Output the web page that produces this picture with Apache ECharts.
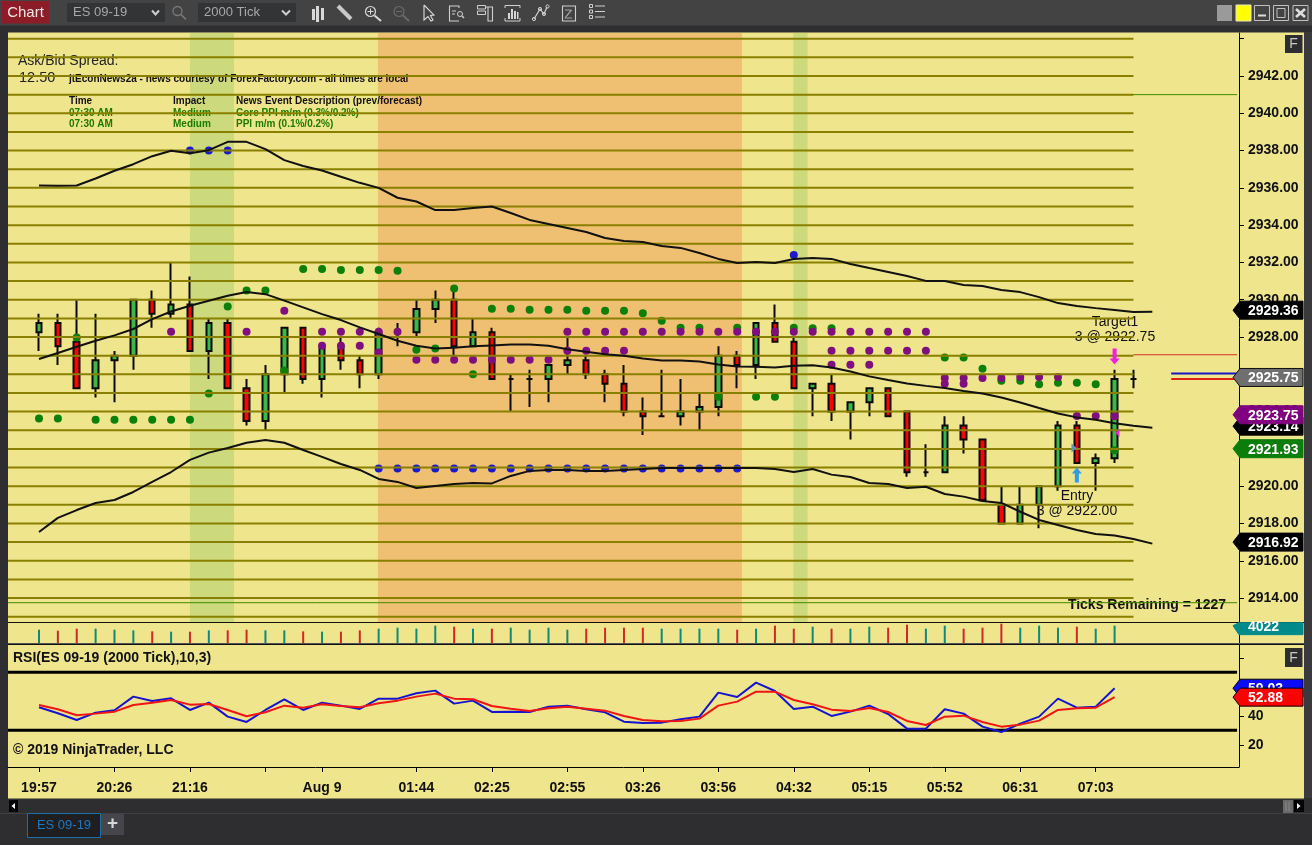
<!DOCTYPE html>
<html><head><meta charset="utf-8">
<script src="https://cdn.jsdelivr.net/npm/echarts@6/dist/echarts.min.js"></script>
<style>html,body{margin:0;padding:0;background:#2e2e30}#c{width:1312px;height:845px}</style>
</head><body><div id="c"></div>
<script>
// ---------- DATA ----------
const xTickIndex = [0,4,8,12,15,20,24,28,32,36,40,44,48,52,56];
const xTickLabels = {0:'19:57',4:'20:26',8:'21:16',15:'Aug 9',20:'01:44',24:'02:25',28:'02:55',32:'03:26',36:'03:56',40:'04:32',44:'05:15',48:'05:52',52:'06:31',56:'07:03'};
const ohlc = [
[2928.25,2928.75,2927.25,2929.25],[2928.75,2927.5,2926.5,2929.25],[2927.75,2925.25,2925.25,2930],[2925.25,2926.75,2924.75,2929.25],
[2926.75,2927,2924.5,2927.25],[2927,2930,2926.25,2930],[2930,2929.25,2928.5,2930.5],[2929.25,2929.75,2929,2932],
[2929.75,2927.25,2927.25,2931.25],[2927.25,2928.75,2925.75,2929],[2928.75,2925.25,2925.25,2929],[2925.25,2923.5,2923.25,2925.75],
[2923.5,2926,2923,2926.5],[2926,2928.5,2925,2928.5],[2928.5,2925.75,2925.5,2928.5],[2925.75,2927.5,2924.75,2927.5],
[2927.5,2926.75,2926.25,2928],[2926.75,2926,2925.25,2927],[2926,2928.25,2925.75,2928.5],[2928,2928,2927.5,2928.75],
[2928.25,2929.5,2928,2930],[2929.5,2930,2928.75,2930.5],[2930,2927.5,2927,2930.5],[2927.5,2928.25,2927.5,2929],
[2928.25,2925.75,2925.75,2928.5],[2925.75,2925.75,2924,2926],[2925.75,2925.75,2924.25,2926.25],[2925.75,2926.5,2924.5,2926.5],
[2926.5,2926.75,2926,2928],[2926.75,2926,2925.75,2927],[2926,2925.5,2924.5,2926.25],[2925.5,2924,2923.75,2926.5],
[2924,2923.75,2922.75,2924.75],[2923.75,2923.75,2923.75,2926.25],[2923.75,2924,2923.25,2925.75],[2924,2924.25,2923,2925],
[2924.25,2927,2923.75,2927.5],[2927,2926.5,2925.25,2927.25],[2926.5,2928.75,2925.75,2928.75],[2928.75,2927.75,2927.75,2929.75],
[2927.75,2925.25,2925.25,2928],[2925.25,2925.5,2923.75,2925.5],[2925.5,2924,2923.5,2926],[2924,2924.5,2922.5,2924.5],
[2924.5,2925.25,2923.75,2925.25],[2925.25,2923.75,2923.75,2925.25],[2924,2920.75,2920.5,2924],[2920.75,2920.75,2920.5,2922.25],
[2920.75,2923.25,2920.75,2923.75],[2923.25,2922.5,2921.75,2923.75],[2922.5,2919.25,2919.25,2922.5],[2919,2918,2918,2920],
[2918,2919,2918,2920],[2919,2920,2917.75,2920],[2920,2923.25,2919.75,2923.5],[2923.25,2921.25,2921.25,2923.5],
[2921.25,2921.5,2919.75,2921.75],[2921.5,2925.75,2921.25,2926.25],[2925.75,2925.75,2925.25,2926.25]
];
const volumes = [3090,2860,3325,3325,3090,2940,2705,2630,2630,2940,2940,3090,2940,2940,2705,2630,2630,2940,3325,3555,3325,4022,
3790,3325,3325,3555,3090,3555,3090,3325,3555,3555,3555,3325,3325,3325,3325,3090,3325,4022,3325,3790,3325,3325,3790,
3555,4250,3325,4022,3325,3555,4485,3555,4022,3555,3790,3325,4022];
const upperBand = [2936.13,2936.11,2936.13,2936.5,2936.92,2937.27,2937.7,2937.99,2937.86,2938.02,2938.47,2938.47,2938.08,2937.49,2937.17,2936.93,2936.6,2936.27,2936,2935.47,2935.27,2934.81,2934.81,2934.92,2935,2934.65,2934.28,2934.06,2933.85,2933.63,2933.31,2933.15,2933.1,2932.88,2932.78,2932.51,2932.19,2931.97,2932.02,2931.97,2932.19,2932.24,2932.19,2931.92,2931.7,2931.49,2931.27,2931.01,2931.01,2930.79,2930.74,2930.52,2930.41,2930.14,2929.82,2929.66,2929.55,2929.45,2929.34,2929.36];
const midBand = [2926.82,2927.14,2927.48,2927.8,2928.09,2928.43,2928.96,2929.37,2929.68,2929.95,2930.21,2930.41,2930.3,2929.95,2929.59,2929.23,2928.91,2928.52,2928.16,2927.8,2927.53,2927.39,2927.42,2927.5,2927.55,2927.6,2927.6,2927.53,2927.35,2927.21,2927.08,2927,2926.85,2926.74,2926.74,2926.69,2926.53,2926.42,2926.4,2926.37,2926.46,2926.48,2926.37,2926.15,2925.89,2925.69,2925.51,2925.38,2925.26,2925.11,2924.97,2924.76,2924.49,2924.19,2923.9,2923.69,2923.56,2923.38,2923.24,2923.14];
const lowerBand = [2917.54,2918.3,2918.72,2919.1,2919.26,2919.69,2920.23,2920.76,2921.41,2921.8,2922.05,2922.33,2922.48,2922.33,2921.94,2921.57,2921.19,2920.87,2920.39,2920.23,2919.9,2920.01,2920.12,2920.17,2920.15,2920.55,2920.82,2920.87,2920.87,2920.82,2920.82,2920.87,2920.92,2920.98,2920.98,2920.98,2920.98,2920.98,2920.98,2920.92,2920.76,2920.92,2920.62,2920.49,2920.17,2920.12,2919.9,2919.97,2919.58,2919.44,2919.21,2919.1,2918.63,2918.19,2917.92,2917.65,2917.44,2917.35,2917.17,2916.92];
const dotsGreen = [[0,2923.63],[1,2923.63],[2,2927.98],[3,2923.56],[4,2923.56],[5,2923.56],[6,2923.56],[7,2923.56],[8,2923.56],[9,2924.97],[10,2929.64],[11,2930.5],[12,2930.5],[13,2926.2],
[14,2931.65],[15,2931.65],[16,2931.6],[17,2931.6],[18,2931.6],[19,2931.55],[20,2927.32],[21,2927.39],[22,2930.6],[23,2926],
[24,2929.52],[25,2929.52],[26,2929.46],[27,2929.46],[28,2929.46],[29,2929.41],[30,2929.41],[31,2929.41],[32,2929.27],[33,2928.87],[34,2928.5],[35,2928.5],[36,2924.8],[37,2928.5],[38,2924.8],[39,2924.8],
[40,2928.5],[41,2928.47],[42,2928.47],[48,2926.9],[49,2926.9],[50,2926.3],[51,2925.65],[52,2925.65],[53,2925.47],[54,2925.55],[55,2925.55],[56,2925.47],[57,2921.93]];
const dotsPurple = [[7,2928.28],[11,2928.28],[13,2929.41],[15,2928.28],[16,2928.28],[17,2928.28],[18,2928.28],[19,2928.28],[15,2927.53],[16,2927.53],[17,2927.53],[18,2927.17],
[20,2926.78],[21,2926.78],[22,2926.78],[23,2926.78],[24,2926.78],[25,2926.78],[26,2926.78],[27,2926.78],
[28,2928.28],[29,2928.28],[30,2928.28],[31,2928.28],[32,2928.28],[33,2928.28],[34,2928.28],[35,2928.28],[36,2928.28],[37,2928.28],[38,2928.28],[39,2928.28],
[28,2927.26],[29,2927.26],[30,2927.26],[31,2927.26],
[40,2928.28],[41,2928.28],[42,2928.28],[43,2928.28],[44,2928.28],[45,2928.28],[46,2928.28],[47,2928.28],
[42,2927.26],[43,2927.26],[44,2927.26],[45,2927.26],[46,2927.26],[47,2927.26],[42,2926.51],[43,2926.51],[44,2926.51],
[48,2925.8],[48,2925.5],[49,2925.8],[49,2925.5],[50,2925.8],[51,2925.8],[52,2925.85],[53,2925.85],[54,2925.85],[55,2923.77],[56,2923.77],[57,2923.75]];
const dotsBlue = [[8,2938],[9,2938],[10,2938],[40,2932.4],[18,2920.95],[19,2920.95],[20,2920.95],[21,2920.95],[22,2920.95],[23,2920.95],[24,2920.95],[25,2920.95],[26,2920.95],[27,2920.95],[28,2920.95],[29,2920.95],[30,2920.95],[31,2920.95],[32,2920.95],[33,2920.95],[34,2920.95],[35,2920.95],[36,2920.95],[37,2920.95]];
const rsiBlue = [45.86,41.72,37.13,42.18,43.79,53.22,50.23,52.07,44.02,49.08,39.43,35.75,44.02,51.38,44.02,49.08,47.01,44.71,51.84,51.84,55.52,57.36,48.39,50.46,42.64,42.87,42.64,46.32,47.01,44.48,42.41,35.98,35.06,35.29,37.59,39.43,55.98,52.99,62.87,57.13,44.71,46.32,39.89,42.87,47.01,41.26,31.15,31.15,44.48,41.5,32.53,28.85,34.6,39.43,51.84,45.63,46.32,59.03];
const rsiRed = [47.47,44.48,40.35,41.5,42.87,47.47,49.08,50.92,47.7,48.16,44.02,39.66,42.41,47.01,45.63,47.93,46.78,45.86,48.62,50.46,53.22,55.29,51.84,51.38,46.78,44.94,43.33,45.17,46.32,44.94,43.56,39.89,37.13,36.21,36.44,38.05,47.01,49.77,56.67,56.67,50.92,47.93,44.25,43.33,45.4,42.64,36.44,33.68,39.43,40.11,35.75,32.53,33.91,36.67,44.02,45.17,45.63,52.88];
const priceLevels = [2913,2914,2915,2916,2917,2918,2919,2920,2921,2922,2923,2924,2925,2926,2927,2928,2929,2930,2931,2932,2933,2934,2935,2936,2937,2938,2939,2940,2941,2942,2943,2944];
const priceTicks = [2914,2916,2918,2920,2922,2924,2926,2928,2930,2932,2934,2936,2938,2940,2942,2944];
const priceLabels = [2914,2916,2918,2920,2922,2924,2926,2928,2930,2932,2934,2936,2938,2940,2942];
const shadeGreen = [[8,10.33],[39.98,40.73]];
const shadeOrange = [[17.96,37.25]];
const priceTags = [['2929.36',2929.36,'#000','#000'],['2925.75',2925.75,'#6f6f6f','#111'],['2923.14',2923.14,'#000','#000'],['2923.75',2923.75,'#800080','#800080'],['2921.93',2921.93,'#0b7d0b','#0b7d0b'],['2916.92',2916.92,'#000','#000']];
const rsiTags = [['59.03',59.03,'#0a0aff','#000'],['52.88',52.88,'#ff0000','#000']];
const volTags = [['4022',4022,'#008b8b','#008b8b']];

// ---------- SCALES / STYLE ----------
const FONT='"Liberation Sans", Arial, sans-serif';
const KHAKI='#efe58c', OLIVE='#8a8000';
const xMin=-1.643, xMax=63.593, xEnd=58, xRight=63.49;
function hLine(y,x0,x1,color,w,z,yAxisIndex,xAxisIndex){
  return {type:'line',xAxisIndex:xAxisIndex||0,yAxisIndex:yAxisIndex||0,data:[[x0,y],[x1,y]],showSymbol:false,symbol:'none',silent:true,animation:false,z:z,lineStyle:{color:color,width:w,cap:'butt'},itemStyle:{color:color}};
}
function band(values,name){
  return {type:'line',name:name,xAxisIndex:0,yAxisIndex:0,data:values.map((v,i)=>[i,v]),showSymbol:false,symbol:'none',silent:true,animation:false,z:6,lineStyle:{color:'#111',width:2}};
}
function dots(pts,color){
  return {type:'scatter',xAxisIndex:0,yAxisIndex:0,data:pts,symbol:'circle',symbolSize:8,silent:true,animation:false,z:4,itemStyle:{color:color,opacity:1}};
}
function shade(ranges,color){
  return {type:'custom',xAxisIndex:0,yAxisIndex:0,silent:true,animation:false,z:1,data:ranges,clip:true,encode:{x:[0,1]},
    renderItem:(p,api)=>{const a=api.coord([api.value(0),0]),b=api.coord([api.value(1),0]);const c=p.coordSys;
      return {type:'rect',shape:{x:a[0],y:c.y,width:b[0]-a[0],height:c.height},style:{fill:color}};}};
}
function tags(list,yAxisIndex,xAxisIndex,clipTop){
  return {type:'custom',xAxisIndex:xAxisIndex,yAxisIndex:yAxisIndex,silent:true,animation:false,z:20,clip:false,
    data:list.map(t=>[0,t[1]]),encode:{y:1},
    renderItem:(p,api)=>{
      const t=list[p.dataIndex];let y=api.coord([0,api.value(1)])[1];
      if(yAxisIndex===0)y-=1.5;
      const top=clipTop?Math.max(y-9,clipTop):y-9;
      const pts=clipTop?[[1233,y],[1239,top],[1303,top],[1303,y+9],[1239,y+9]]:[[1233,y],[1240,y-9],[1303,y-9],[1303,y+9],[1240,y+9]];
      return {type:'group',children:[
        {type:'polygon',shape:{points:pts},style:{fill:t[2],stroke:t[3],lineWidth:1}},
        {type:'text',style:{text:t[0],x:1248,y:y+1,fill:'#fff',font:'bold 14px '+FONT,textAlign:'left',textVerticalAlign:'middle'}}
      ]};
    }};
}
function marker(path,size,pt,color,rot){
  return {type:'scatter',xAxisIndex:0,yAxisIndex:0,z:7,silent:true,animation:false,symbol:path,symbolSize:size,symbolRotate:rot||0,data:[pt],itemStyle:{color:color,opacity:1}};
}
// ---------- CHROME ----------
const g=[];
const rect=(x,y,w,h,fill,z,stroke,lw)=>g.push({type:'rect',silent:true,z:z===undefined?30:z,shape:{x,y,width:w,height:h},style:{fill:fill||'none',stroke:stroke||'none',lineWidth:lw||1}});
const pl=(pts,stroke,lw,z)=>g.push({type:'polyline',silent:true,z:z===undefined?30:z,shape:{points:pts},style:{stroke,lineWidth:lw||1,fill:'none'}});
const circ=(cx,cy,r,stroke,lw)=>g.push({type:'circle',silent:true,z:30,shape:{cx,cy,r},style:{stroke,lineWidth:lw||1,fill:'none'}});
const txt=(s,x,y,font,fill,align,z)=>g.push({type:'text',silent:true,z:z===undefined?2:z,x:x,y:y,style:{text:s,font:font+' '+FONT,fill,textAlign:align||'left',textVerticalAlign:'middle'}});

rect(8,32.5,1296,766,KHAKI,-1);
rect(0,0,1312,25.5,'#434343',-1);
rect(2,1,47,22.5,'#8c1c26',30);
txt('Chart',25.5,12.5,'15px','#f3e4e4','center',31);
rect(67,3,98,19,'#333436'); txt('ES 09-19',73,12.5,'13px','#a8a8a8','left',31);
pl([[152,10.5],[155.5,14.5],[159,10.5]],'#cfcfcf',2);
circ(177.5,11,4.5,'#7a7a7a',1.3); pl([[181,14.5],[186,19.5]],'#7a7a7a',1.6);
rect(198,3,98,19,'#333436'); txt('2000 Tick',204,12.5,'13px','#a8a8a8','left',31);
pl([[282,10.5],[286,14.5],[290,10.5]],'#cfcfcf',2);
// toolbar icons
rect(312,9,3,11,'#d8d8d8'); rect(316,6,3,16,'#d8d8d8'); rect(321,8,3,12,'#d8d8d8');
pl([[338,6],[351,19]],'#c9c9c9',4);
circ(370.5,11.5,5,'#d8d8d8',1.2); pl([[374.5,15.5],[381,21]],'#d8d8d8',2); pl([[367.5,11.5],[373.5,11.5]],'#d8d8d8',1); pl([[370.5,8.5],[370.5,14.5]],'#d8d8d8',1);
circ(399,11.5,5,'#6a6a6a',1.2); pl([[403,15.5],[409,21]],'#6a6a6a',2); pl([[396,11.5],[402,11.5]],'#6a6a6a',1);
pl([[424,5],[424,20],[428,16.5],[431,21],[433,20],[430.5,15.5],[434,15],[424,5]],'#dcdcdc',1.1);
pl([[459,8],[459,6],[449.5,6],[449.5,21],[459,21]],'#d0d0d0',1.1); pl([[452,11],[456,11]],'#d0d0d0',1); pl([[452,14],[455,14]],'#d0d0d0',1); circ(460,14,2.5,'#d0d0d0',1); pl([[462,16],[464,18]],'#d0d0d0',1.5);
rect(477.5,5.5,8,3.5,null,30,'#d0d0d0',1); rect(477.5,11,8,3.5,null,30,'#d0d0d0',1); pl([[485.5,7],[492.5,7],[492.5,21],[488,21],[488,7]],'#d0d0d0',1.1);
pl([[505,8],[505,5.5],[520,5.5],[520,8]],'#d0d0d0',1); pl([[505,18],[505,21],[520,21],[520,18]],'#d0d0d0',1); rect(508,13,2,6,'#d8d8d8'); rect(511,9,2,10,'#d8d8d8'); rect(514,11,2,8,'#d8d8d8'); rect(517,12,1.5,7,'#d8d8d8');
pl([[534,19],[540,9],[544,14],[547,7]],'#d0d0d0',1.2); circ(534,19,1.6,'#d0d0d0',1); circ(540,9,1.6,'#d0d0d0',1); circ(544,14,1.6,'#d0d0d0',1); circ(547.5,6.5,1.6,'#d0d0d0',1);
rect(562.5,6,13,15,null,30,'#d0d0d0',1.1); pl([[565,10],[571,10],[565,18],[572,18]],'#a8a8a8',1); pl([[565,18],[572,10]],'#a8a8a8',1);
[6,11.5,17].forEach(y=>{rect(589.5,y-1.5,3,3,null,30,'#d0d0d0',1); pl([[595,y],[605,y]],'#d0d0d0',1);});
// window buttons
rect(1217,5,15,16,'#9a9a9a'); rect(1236,5,15,16,'#ffff00',30,'#e8e8c0',1);
rect(1254.5,5.5,15,15,null,30,'#c0c0c0',1); pl([[1258,15.5],[1266,15.5]],'#dcdcdc',2);
rect(1273.5,5.5,15,15,null,30,'#c0c0c0',1); rect(1277,8.5,8,9,null,30,'#c0c0c0',1);
rect(1293,5.5,15,15,null,30,'#c0c0c0',1); pl([[1296,9],[1305,17]],'#dcdcdc',2.6); pl([[1305,9],[1296,17]],'#dcdcdc',2.6);
// F buttons
rect(1285,35,17.5,18,'#2d2d30',31); txt('F',1293.5,44.5,'14px','#c8c8c8','center',32);
rect(1285,648,17.5,19,'#2d2d30',31); txt('F',1293.5,658,'14px','#c8c8c8','center',32);
// panel lines
pl([[8,622.5],[1304,622.5]],'#111',1,8);
pl([[8,643.5],[1304,643.5]],'#555',1,8);
pl([[8,644.5],[1304,644.5]],'#111',1,8);
// bottom chrome
rect(9,800,9,12,'#000'); g.push({type:'polygon',silent:true,z:31,shape:{points:[[15,803],[11.5,806],[15,809]]},style:{fill:'#fff'}});
rect(1283,800,10,13,'#6a6a6a'); pl([[1286,802],[1286,811]],'#888',1); pl([[1289,802],[1289,811]],'#888',1);
rect(1294,800,10,12,'#000'); g.push({type:'polygon',silent:true,z:31,shape:{points:[[1297,803],[1300.5,806],[1297,809]]},style:{fill:'#fff'}});
pl([[0,813.5],[1312,813.5]],'#414141',1,29);
rect(27.5,813.5,73,24,'#1f1f21',30,'#1b6ea8',1); txt('ES 09-19',64,825.5,'13px','#1f78bf','center',31);
rect(101,814,23,21,'#45454b'); txt('+',112.5,824,'bold 19px','#d8d8d8','center',31);
rect(1304,32,8,766,'#3a3a3c',-1);
// chart text (beneath the olive lines)
txt('Ask/Bid Spread:',18,61,'14px','#222');
txt('12.50',19,77.5,'14.5px','#222');
txt('jtEconNews2a - news courtesy of ForexFactory.com - all times are local',69,79,'bold 10px','#111');
txt('Time',69,101.5,'bold 10px','#111');txt('Impact',173,101.5,'bold 10px','#111');txt('News Event Description (prev/forecast)',236,101.5,'bold 10px','#111');
const NEWS='#1b7a00';
txt('07:30 AM',69,113,'bold 10px',NEWS);txt('Medium',173,113,'bold 10px',NEWS);txt('Core PPI m/m (0.3%/0.2%)',236,113,'bold 10px',NEWS);
txt('07:30 AM',69,124.5,'bold 10px',NEWS);txt('Medium',173,124.5,'bold 10px',NEWS);txt('PPI m/m (0.1%/0.2%)',236,124.5,'bold 10px',NEWS);
txt('Target1',1115,322,'14px','#111','center');txt('3 @ 2922.75',1115,337,'14px','#111','center');
txt('Entry',1077,496,'14px','#111','center');txt('3 @ 2922.00',1077,511,'14px','#111','center');
txt('Ticks Remaining = 1227',1226,605.5,'bold 14px','#111','right');
txt('RSI(ES 09-19 (2000 Tick),10,3)',13,658.5,'bold 14px','#111');
txt('\u00a9 2019 NinjaTrader, LLC',13,750.5,'bold 14px','#111');

// ---------- CHART ----------
const hiddenX={show:false,type:'value',min:xMin,max:xMax};
const labelStyle={color:'#111',fontFamily:FONT,fontWeight:'bold',fontSize:14};
const axisLine={show:true,onZero:false,lineStyle:{color:'#000',width:1}};
const chart=echarts.init(document.getElementById('c'),null,{renderer:'canvas'});
chart.setOption({
  animation:false,backgroundColor:'#2e2e30',
  graphic:{elements:g},
  grid:[{left:8,width:1231,top:33,height:589.5},{left:8,width:1231,top:623,height:20},{left:8,width:1231,top:645,height:122}],
  xAxis:[{...hiddenX,gridIndex:0},{...hiddenX,gridIndex:1},{
    type:'value',gridIndex:2,min:xMin,max:xMax,position:'bottom',splitLine:{show:false},axisLine,
    axisTick:{show:true,length:5,lineStyle:{color:'#000'},customValues:xTickIndex},
    axisLabel:{...labelStyle,margin:14,customValues:xTickIndex.filter(i=>xTickLabels[i]),formatter:v=>xTickLabels[v]||''}
  }],
  yAxis:[{
    type:'value',gridIndex:0,position:'right',min:2912.689,max:2944.306,splitLine:{show:false},axisLine,
    axisTick:{show:true,length:5,lineStyle:{color:'#000'},customValues:priceTicks},
    axisLabel:{...labelStyle,margin:9,customValues:priceLabels,formatter:v=>v.toFixed(2)}
  },{
    type:'value',gridIndex:1,position:'right',min:0,max:4640,splitLine:{show:false},axisLine,axisTick:{show:false},axisLabel:{show:false}
  },{
    type:'value',gridIndex:2,position:'right',min:4.69,max:88.83,splitLine:{show:false},axisLine,
    axisTick:{show:true,length:5,lineStyle:{color:'#000'},customValues:[20,40,80]},
    axisLabel:{...labelStyle,margin:9,customValues:[20,40],formatter:v=>String(v)}
  }],
  series:[
    shade(shadeGreen,'#ccd97c'),shade(shadeOrange,'#f0c072'),
    {type:'candlestick',xAxisIndex:0,yAxisIndex:0,z:3,silent:true,animation:false,barWidth:6,
      encode:{x:0,y:[1,2,3,4]},data:ohlc.map((r,i)=>[i,...r]),
      itemStyle:{color:'#3cb74a',color0:'#ff0000',borderColor:'#0a0a0a',borderColor0:'#0a0a0a',borderColorDoji:'#0a0a0a',borderWidth:2}},
    dots(dotsGreen,'#0b800b'),dots(dotsPurple,'#7f0f80'),dots(dotsBlue,'#1a1acc'),
    hLine(2941,xMin,xRight,'#3f8a00',1,2.5),hLine(2913.75,xMin,xRight,'#3f8a00',1,5.5),
    hLine(2927.05,xEnd,xRight,'#d83020',1,2.5),
    hLine(2926.05,60,xRight,'#1414c8',2,5),hLine(2925.75,60,xRight,'#e02010',2,5),
    ...priceLevels.map(l=>hLine(l,xMin,xEnd,OLIVE,2,5)),
    band(upperBand,'upper'),band(midBand,'mid'),band(lowerBand,'lower'),
    marker('path://M3,0 L7,0 L7,10 L10,10 L5,16 L0,10 L3,10Z',[10,16],[57,2926.96],'#f020e0'),
    marker('path://M5,0 L10,6 L7,6 L7,15 L3,15 L3,6 L0,6Z',[10,15],[55,2920.6],'#2e9bef'),
    marker('triangle',[9,5],[54.85,2922.05],'#5f92b8',-90),
    marker('triangle',[8,4],[57.15,2922.85],'#f020e0',90),
    {type:'bar',xAxisIndex:1,yAxisIndex:1,z:3,silent:true,animation:false,barWidth:2,
      data:volumes.map((v,i)=>({value:[i,v],itemStyle:{color:ohlc[i][1]>=ohlc[i][0]?'#0f8a78':'#d02828'}}))},
    hLine(70,xMin,xRight,'#000',3,3,2,2),hLine(30,xMin,xRight,'#000',3,3,2,2),
    {type:'line',xAxisIndex:2,yAxisIndex:2,z:4,silent:true,animation:false,showSymbol:false,symbol:'none',data:rsiBlue.map((v,i)=>[i,v]),lineStyle:{color:'#1414d0',width:2}},
    {type:'line',xAxisIndex:2,yAxisIndex:2,z:5,silent:true,animation:false,showSymbol:false,symbol:'none',data:rsiRed.map((v,i)=>[i,v]),lineStyle:{color:'#f01414',width:2}},
    tags(priceTags,0,0),tags(volTags,1,1,622.7),tags(rsiTags,2,2)
  ]
});
</script></body></html>
